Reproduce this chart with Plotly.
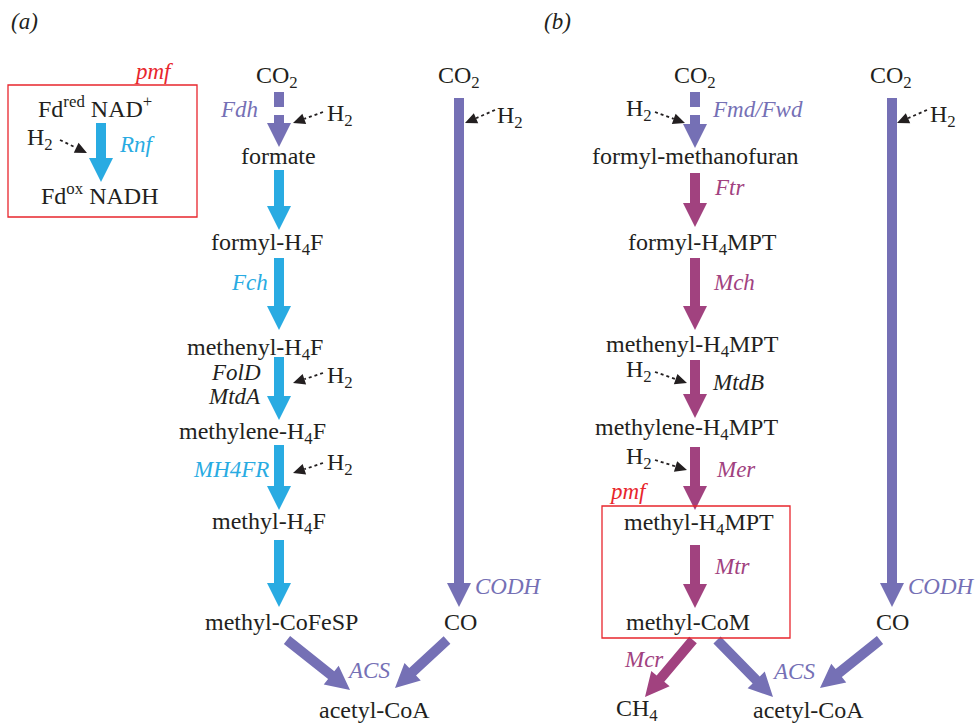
import math
import plotly.graph_objects as go

W, H = 979, 724
PURPLE = "#7570b5"
CYAN = "#29abe2"
MAG = "#a1427f"
RED = "#e8262d"
BLACK = "#231f20"
FONT = "Liberation Serif"

# ---- node labels (text, x, y) ----
node_text = [
    "CO<sub>2</sub>", "formate", "formyl-H<sub>4</sub>F", "methenyl-H<sub>4</sub>F",
    "methylene-H<sub>4</sub>F", "methyl-H<sub>4</sub>F", "methyl-CoFeSP",
    "CO<sub>2</sub>", "CO", "acetyl-CoA",
    "Fd<sup>red</sup> NAD<sup>+</sup>", "Fd<sup>ox</sup> NADH",
    "CO<sub>2</sub>", "formyl-methanofuran", "formyl-H<sub>4</sub>MPT", "methenyl-H<sub>4</sub>MPT",
    "methylene-H<sub>4</sub>MPT", "methyl-H<sub>4</sub>MPT", "methyl-CoM",
    "CH<sub>4</sub>", "acetyl-CoA", "CO<sub>2</sub>", "CO",
]
node_x = [277, 278, 267, 255, 252, 269, 281, 459, 460, 374, 95, 99,
          695, 695, 702, 692, 686, 699, 688, 637, 808, 891, 892]
node_y = [78, 157, 245, 350, 434, 524, 623, 78, 623, 711, 108, 195,
          78, 157, 245, 347, 430, 525, 623, 711, 711, 78, 623]

# ---- enzyme / panel labels (text, x, y, anchor, color) ----
enz_text = ["Fdh", "Rnf", "Fch", "FolD", "MtdA", "MH4FR", "ACS", "CODH",
            "Fmd/Fwd", "Ftr", "Mch", "MtdB", "Mer", "Mtr", "Mcr", "ACS", "CODH",
            "pmf", "pmf", "(a)", "(b)"]
enz_x = [260, 117, 270, 263, 263, 271, 345, 473,
         710, 712, 711, 710, 714, 712, 666, 770, 906,
         176, 651, 9, 542]
enz_y = [110, 145, 283, 373, 397, 470, 671, 587,
         110, 188, 283, 383, 470, 567, 660, 672, 587,
         72, 492, 22, 22]
enz_anchor = ["right", "left", "right", "right", "right", "right", "left", "left",
              "left", "left", "left", "left", "left", "left", "right", "left", "left",
              "right", "right", "left", "left"]
enz_col = [PURPLE, CYAN, CYAN, BLACK, BLACK, CYAN, PURPLE, PURPLE,
           PURPLE, MAG, MAG, BLACK, MAG, MAG, MAG, PURPLE, PURPLE,
           RED, RED, BLACK, BLACK]

# ---- thick arrows (x0, y0, tip x, tip y, color) ----
arr_x0 = [101, 279, 279, 279, 279, 279, 279, 287, 459, 447,
          695, 695, 695, 695, 695, 695, 693, 717, 892, 880]
arr_y0 = [123, 115, 170, 258, 357, 445, 540, 640, 98, 640,
          115, 173, 258, 360, 447, 545, 640, 640, 98, 640]
arr_x1 = [101, 279, 279, 279, 279, 279, 279, 350, 459, 395,
          695, 695, 695, 695, 695, 695, 645, 773, 892, 820]
arr_y1 = [182, 147, 230, 330, 420, 510, 607, 690, 607, 688,
          148, 227, 330, 418, 510, 608, 697, 697, 607, 688]
arr_col = [CYAN, PURPLE, CYAN, CYAN, CYAN, CYAN, CYAN, PURPLE, PURPLE, PURPLE,
           PURPLE, MAG, MAG, MAG, MAG, MAG, MAG, PURPLE, PURPLE, PURPLE]

# dashed stubs above the dashed arrows (x, y0, y1, color)
stub_x = [279, 695]
stub_y0 = [92, 92]
stub_y1 = [107, 107]
stub_col = [PURPLE, PURPLE]

# ---- H2 dotted arrows (label x, y, line start x, y, tip x, y) ----
h2_lx = [40, 340, 340, 340, 510, 639, 639, 639, 943]
h2_ly = [140, 116, 378, 465, 118, 111, 372, 459, 117]
h2_x0 = [60, 323, 323, 323, 495, 655, 655, 655, 927]
h2_y0 = [140, 112, 373, 463, 110, 112, 372, 460, 110]
h2_x1 = [87, 293, 293, 293, 465, 685, 687, 687, 897]
h2_y1 = [153, 123, 383, 473, 123, 123, 383, 470, 123]

# ---- boxes (x0, y0, x1, y1) ----
box_x0 = [8, 602]
box_y0 = [85, 506]
box_x1 = [197, 790]
box_y1 = [217, 638]


def arrow_path(x0, y0, x1, y1, sw=10, hw=24, hl=24):
    dx, dy = x1 - x0, y1 - y0
    L = math.hypot(dx, dy)
    ux, uy = dx / L, dy / L
    px, py = -uy, ux
    bx, by = x1 - ux * hl, y1 - uy * hl
    pts = [
        (x0 + px * sw / 2, y0 + py * sw / 2),
        (bx + px * sw / 2, by + py * sw / 2),
        (bx + px * hw / 2, by + py * hw / 2),
        (x1, y1),
        (bx - px * hw / 2, by - py * hw / 2),
        (bx - px * sw / 2, by - py * sw / 2),
        (x0 - px * sw / 2, y0 - py * sw / 2),
    ]
    return "M " + " L ".join(f"{a:.2f},{b:.2f}" for a, b in pts) + " Z"


shapes = []
for x0, y0, x1, y1, c in zip(arr_x0, arr_y0, arr_x1, arr_y1, arr_col):
    shapes.append(dict(type="path", path=arrow_path(x0, y0, x1, y1), xref="x", yref="y",
                       fillcolor=c, line=dict(width=0)))
for x, y0, y1, c in zip(stub_x, stub_y0, stub_y1, stub_col):
    shapes.append(dict(type="rect", x0=x - 5, x1=x + 5, y0=y0, y1=y1, xref="x", yref="y",
                       fillcolor=c, line=dict(width=0)))
for x0, y0, x1, y1 in zip(h2_x0, h2_y0, h2_x1, h2_y1):
    dx, dy = x1 - x0, y1 - y0
    L = math.hypot(dx, dy)
    ux, uy = dx / L, dy / L
    hl = 12
    bx, by = x1 - ux * hl, y1 - uy * hl
    shapes.append(dict(type="line", x0=x0, y0=y0, x1=bx, y1=by, xref="x", yref="y",
                       line=dict(color=BLACK, width=1.8, dash="dot")))
    shapes.append(dict(type="path", path=arrow_path(bx - ux * 0.1, by - uy * 0.1, x1, y1, sw=0.1, hw=11, hl=12),
                       xref="x", yref="y", fillcolor=BLACK, line=dict(width=0)))
for x0, y0, x1, y1 in zip(box_x0, box_y0, box_x1, box_y1):
    shapes.append(dict(type="rect", x0=x0, y0=y0, x1=x1, y1=y1, xref="x", yref="y",
                       fillcolor="rgba(0,0,0,0)", line=dict(color=RED, width=1.3)))

YS = 1  # small vertical pixel nudge for text baseline
annotations = []
for t, x, y in zip(node_text, node_x, node_y):
    annotations.append(dict(text=t, x=x, y=y, xref="x", yref="y", showarrow=False,
                            xanchor="center", yanchor="middle", yshift=YS,
                            font=dict(family=FONT, size=24, color=BLACK)))
for x, y in zip(h2_lx, h2_ly):
    annotations.append(dict(text="H<sub>2</sub>", x=x, y=y, xref="x", yref="y", showarrow=False,
                            xanchor="center", yanchor="middle", yshift=YS,
                            font=dict(family=FONT, size=24, color=BLACK)))
for t, x, y, a, c in zip(enz_text, enz_x, enz_y, enz_anchor, enz_col):
    annotations.append(dict(text=f"<i>{t}</i>", x=x, y=y, xref="x", yref="y", showarrow=False,
                            xanchor=a, yanchor="middle", yshift=YS,
                            font=dict(family=FONT, size=23, color=c)))

fig = go.Figure()
fig.add_trace(go.Scatter(x=[0, W], y=[0, H], mode="markers", marker=dict(opacity=0),
                         hoverinfo="skip", showlegend=False))
fig.update_layout(
    width=W, height=H, margin=dict(l=0, r=0, t=0, b=0),
    plot_bgcolor="white", paper_bgcolor="white",
    xaxis=dict(range=[0, W], visible=False, fixedrange=True),
    yaxis=dict(range=[H, 0], visible=False, fixedrange=True),
    shapes=shapes, annotations=annotations, showlegend=False,
)
fig.write_html("out.html", config={"displayModeBar": False},
               post_script="document.body.style.margin='0px';document.body.style.overflow='hidden';")
